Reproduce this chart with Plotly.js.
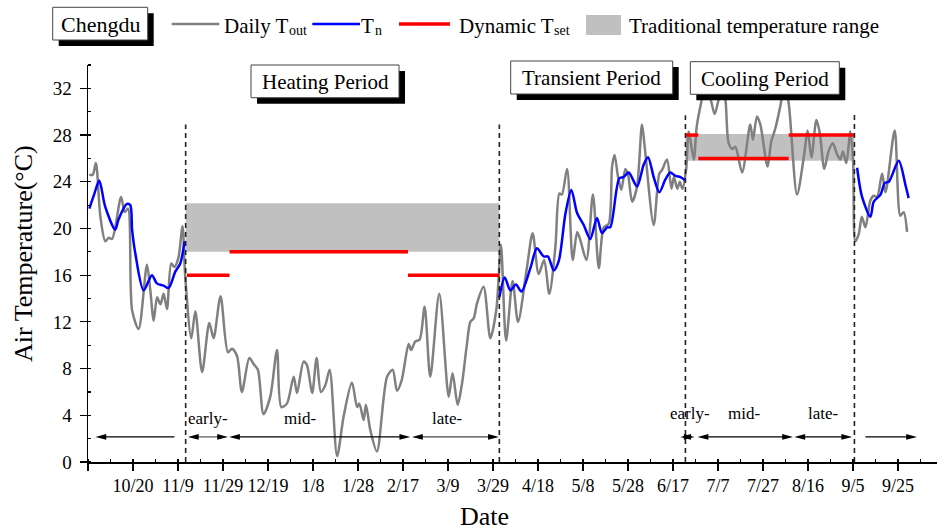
<!DOCTYPE html>
<html>
<head>
<meta charset="utf-8">
<script src="https://cdn.plot.ly/plotly-3.0.1.min.js"></script>
<style>html,body{margin:0;padding:0;background:#fff;}#chart{width:937px;height:530px;}</style>
</head>
<body>
<div id="chart"></div>
<script>
// ---- Data (x = days since 9/30) ----
const tickDays = [0, 20, 40, 60, 80, 100, 120, 140, 160, 180, 200, 220, 240, 260, 280, 300, 320, 340, 360];
const tickLabels = ['', '10/20', '11/9', '11/29', '12/19', '1/8', '1/28', '2/17', '3/9', '3/29', '4/18', '5/8', '5/28', '6/17', '7/7', '7/27', '8/16', '9/5', '9/25'];

const toutDays = [0.6, 2.1, 3.5, 5.5, 7.7, 9.2, 10.7, 14.7, 16.3, 17.8, 19.6, 22.5, 26.2, 27.7, 29.2, 30.7, 32.2, 33.6, 35.1, 37.0,
  38.4, 40.2, 42.0, 43.2, 45.9, 47.7, 50.7, 53.9, 55.8, 58.9, 62.2, 64.0, 66.2, 68.4, 71.7, 73.6, 75.5, 78.0, 81.0, 84.0,
  85.9, 88.4, 91.4, 92.9, 95.8, 97.3, 99.6, 101.6, 103.5, 105.5, 107.4, 110.7, 113.6, 117.3, 119.6, 120.6, 122.5, 123.5, 125.5, 128.4,
  132.9, 135.4, 137.3, 139.4, 142.5, 143.6, 145.4, 147.4, 149.6, 152.1, 156.1, 160.3, 162.0, 164.3, 166.2, 168.4, 169.9, 171.4, 172.9, 175.8,
  178.8, 181.5, 183.5, 185.8, 188.7, 191.1, 195.1, 197.6, 200.3, 202.7, 205.0, 207.7, 209.5, 210.6, 212.9, 215.4, 217.4, 218.8, 221.5, 224.4,
  227.0, 229.2, 231.4, 232.9, 234.0, 235.5, 237.0, 238.8, 240.0, 241.8, 244.0, 246.2, 247.4, 251.4, 253.9, 255.1, 257.3, 259.3, 260.4, 261.9,
  263.0, 264.2, 265.8, 267.0, 269.2, 270.5, 272.3, 274.5, 276.8, 278.5, 280.2, 282.0, 283.3, 284.7, 286.3, 287.7, 290.7, 294.3, 295.5, 297.3,
  298.8, 302.0, 303.6, 305.5, 307.6, 309.6, 311.4, 315.1, 318.1, 319.8, 321.5, 323.7, 325.2, 327.2, 329.1, 331.0, 332.8, 334.3, 335.5, 337.0,
  338.8, 340.0, 341.0, 342.5, 343.9, 345.5, 347.7, 349.2, 350.7, 352.9, 354.4, 358.5, 361.0, 362.5, 364.0];
const toutTemps = [24.6, 24.6, 25.6, 21.0, 18.9, 19.2, 19.1, 22.7, 21.4, 21.7, 13.0, 11.4, 16.9, 14.7, 12.1, 14.1, 13.5, 14.4, 13.1, 17.0,
  16.7, 17.5, 20.2, 15.9, 10.6, 12.9, 7.7, 11.9, 10.6, 14.2, 9.4, 9.7, 9.1, 6.0, 8.9, 8.4, 7.9, 4.1, 5.6, 9.6,
  4.7, 5.0, 7.3, 5.9, 8.6, 8.3, 5.9, 8.9, 6.0, 6.6, 7.9, 0.5, 3.9, 6.8, 4.7, 5.0, 3.6, 4.9, 2.7, 0.9,
  7.3, 7.9, 6.1, 7.0, 10.1, 9.6, 10.3, 10.5, 13.3, 7.3, 14.4, 5.6, 7.6, 4.9, 6.7, 10.1, 12.0, 12.3, 13.6, 15.0,
  10.6, 13.1, 18.6, 10.4, 15.5, 12.0, 16.7, 19.6, 16.1, 17.3, 14.4, 18.4, 23.0, 22.9, 25.1, 17.3, 19.7, 19.0, 17.3, 22.9,
  16.6, 20.1, 20.4, 25.3, 26.3, 24.5, 23.3, 25.1, 24.6, 22.3, 23.6, 28.9, 27.0, 20.3, 24.7, 25.0, 25.9, 23.4, 24.4, 23.4,
  24.0, 23.4, 25.0, 28.3, 25.9, 28.7, 30.6, 32.3, 31.0, 29.8, 31.0, 32.3, 31.0, 27.3, 26.8, 27.0, 24.8, 28.9, 27.6, 29.6,
  28.9, 25.3, 27.4, 28.6, 30.4, 32.3, 30.7, 22.9, 26.1, 28.4, 26.1, 29.3, 28.2, 25.1, 26.6, 27.3, 26.4, 25.9, 26.6, 25.6,
  28.3, 25.8, 18.9, 19.5, 21.0, 20.1, 22.4, 22.8, 22.7, 24.7, 23.1, 28.4, 21.1, 21.4, 19.7];

const tnDays = [0.6, 2.7, 5.0, 7.6, 12.1, 13.6, 17.3, 18.8, 19.6, 21.0, 24.7, 28.4, 30.6, 33.6, 35.8, 38.8, 41.0, 42.9, null,
  182.8, 185.2, 187.7, 190.2, 192.6, 196.6, 199.5, 202.5, 204.4, 207.0, 209.2, 212.2, 214.8, 217.4, 220.3, 223.2, 226.2, 228.4, 230.7, 232.1,
  236.1, 238.0, 240.3, 244.0, 247.0, 248.9, 251.4, 253.9, 256.6, 258.8, 261.1, 263.3, 265.5, null,
  341.8, 344.0, 347.7, 349.2, 352.2, 354.1, 355.9, 360.3, 363.3, 364.7];
const tnTemps = [21.7, 22.9, 24.1, 21.9, 19.9, 20.8, 22.1, 22.0, 19.9, 17.9, 14.7, 16.0, 15.3, 15.1, 14.9, 16.3, 17.0, 18.9, null,
  14.1, 15.8, 14.7, 15.2, 14.6, 16.6, 18.3, 17.6, 17.6, 16.4, 17.2, 21.3, 23.3, 21.3, 20.3, 19.1, 20.9, 19.6, 20.1, 20.1,
  24.3, 24.4, 24.8, 23.6, 25.5, 26.1, 24.4, 23.1, 24.2, 24.8, 24.5, 24.4, 24.1, null,
  25.2, 22.7, 21.0, 22.3, 22.9, 23.9, 24.0, 25.8, 23.7, 22.6];

// Dynamic Tset per phase (early, mid, late)
const heatingPhaseDays = [44.0, 62.9, 142.2, 182.8];
const heatingTset = [16, 18, 16];
const coolingPhaseDays = [265.5, 271.2, 311.4, 340.6];
const coolingTset = [28, 26, 28];

// Traditional temperature range: [start day, end day], [low, high]
const bandStartDays = [43.4, 265.5];
const bandEndDays = [182.8, 340.6];
const bandLow = [18.0, 25.8];
const bandHigh = [22.15, 28.1];

// Period boundaries (dashed lines)
const boundaryDays = [43.4, 182.8, 265.5, 340.6];

// ---- Build traces ----
const traces = [];
for (let i = 0; i < bandStartDays.length; i++) {
  traces.push({
    x: [bandStartDays[i], bandEndDays[i], bandEndDays[i], bandStartDays[i], bandStartDays[i]],
    y: [bandLow[i], bandLow[i], bandHigh[i], bandHigh[i], bandLow[i]],
    mode: 'lines', fill: 'toself', fillcolor: '#c0c0c0', line: {width: 0, color: '#c0c0c0'},
    hoverinfo: 'skip', showlegend: false
  });
}
traces.push({x: toutDays, y: toutTemps, mode: 'lines', line: {color: '#808080', width: 2.5, shape: 'spline', smoothing: 0.8}, showlegend: false});
traces.push({x: tnDays, y: tnTemps, mode: 'lines', connectgaps: false, line: {color: '#0000ff', width: 2.5, shape: 'spline', smoothing: 0.8}, showlegend: false});
const tsX = [], tsY = [];
function addPhases(days, vals) {
  for (let i = 0; i < vals.length; i++) { tsX.push(days[i], days[i + 1], null); tsY.push(vals[i], vals[i], null); }
}
addPhases(heatingPhaseDays, heatingTset);
addPhases(coolingPhaseDays, coolingTset);
traces.push({x: tsX, y: tsY, mode: 'lines', connectgaps: false, line: {color: '#ff0000', width: 3.5}, showlegend: false});

// ---- Layout helpers ----
const ML = 88, MT = 65, PW = 849, PH = 397;
const PX = x => (x - ML) / PW;
const PY = y => (MT + PH - y) / PH;
const serif = 'Liberation Serif, Times New Roman, serif';

const shapes = [];
const annotations = [];

function boxWithShadow(x0, y0, x1, y1, text, size) {
  shapes.push({type: 'rect', xref: 'paper', yref: 'paper', layer: 'above', x0: PX(x0 + 6), x1: PX(x1 + 6), y0: PY(y1 + 6), y1: PY(y0 + 6), fillcolor: '#000', line: {width: 0}});
  shapes.push({type: 'rect', xref: 'paper', yref: 'paper', layer: 'above', x0: PX(x0), x1: PX(x1), y0: PY(y1), y1: PY(y0), fillcolor: '#fff', line: {width: 1, color: '#444'}});
  annotations.push({xref: 'paper', yref: 'paper', x: PX((x0 + x1) / 2), y: PY((y0 + y1) / 2 + 1), text: text, showarrow: false, xanchor: 'center', yanchor: 'middle', font: {family: serif, size: size, color: '#000'}});
}
boxWithShadow(52.7, 7.3, 147.7, 40, 'Chengdu', 22);
boxWithShadow(251, 65, 399, 97.7, 'Heating Period', 21);
boxWithShadow(510.7, 61, 672.7, 94, 'Transient Period', 21);
boxWithShadow(690.3, 61.7, 839.3, 94.3, 'Cooling Period', 21);

// legend samples
function legLine(x0, x1, color, w) {
  shapes.push({type: 'line', xref: 'paper', yref: 'paper', x0: PX(x0), x1: PX(x1), y0: PY(24), y1: PY(24), line: {color: color, width: w}});
}
legLine(171.7, 219.3, '#808080', 2.5);
legLine(312.3, 360, '#0000ff', 2.5);
legLine(399, 450, '#ff0000', 3.5);
shapes.push({type: 'rect', xref: 'paper', yref: 'paper', x0: PX(586), x1: PX(621), y0: PY(35), y1: PY(15), fillcolor: '#c0c0c0', line: {width: 0}});
function legText(x, y, text, size) {
  annotations.push({xref: 'paper', yref: 'paper', x: PX(x), y: PY(y), text: text, showarrow: false, xanchor: 'left', yanchor: 'middle', borderpad: 0, font: {family: serif, size: size, color: '#000'}});
}
legText(223, 25.5, 'Daily T', 21);
legText(288, 31, 'out', 14);
legText(360, 25.5, 'T', 21);
legText(374, 31, 'n', 14);
legText(458, 25.5, 'Dynamic T', 21);
legText(553, 31, 'set', 14);
legText(628, 25.5, 'Traditional temperature range', 21);

// dashed boundary lines
const dashTops = [28.9, 28.9, 29.7, 30.0];
boundaryDays.forEach((d, i) => {
  shapes.push({type: 'line', xref: 'x', yref: 'y', layer: 'above', x0: d, x1: d, y0: 0, y1: dashTops[i], line: {color: '#222', width: 1.6, dash: '5px,4px'}});
});

// phase arrows: [start day, end day, head at start?, head at end?, colour]
const arrowY = 2.15, headLen = 4.8, headHalf = 0.24;
const arrowSpec = [
  [3.3, 38.4, true, false, '#000'],
  [44.4, 62.2, true, true, '#555'],
  [62.7, 143.2, true, true, '#000'],
  [144.0, 182.6, true, true, '#444'],
  [263.2, 269.6, true, true, '#000'],
  [270.9, 313.3, true, true, '#000'],
  [313.9, 339.6, true, true, '#000'],
  [345.5, 368.4, false, true, '#000']
];
arrowSpec.forEach(a => {
  const s = a[0], e = a[1];
  shapes.push({type: 'line', xref: 'x', yref: 'y', x0: a[2] ? s + headLen * 0.6 : s, x1: a[3] ? e - headLen * 0.6 : e, y0: arrowY, y1: arrowY, line: {color: a[4], width: 1.2}});
  if (a[2]) shapes.push({type: 'path', xref: 'x', yref: 'y', path: `M ${s},${arrowY} L ${s + headLen},${arrowY + headHalf} L ${s + headLen},${arrowY - headHalf} Z`, fillcolor: '#000', line: {width: 0}});
  if (a[3]) shapes.push({type: 'path', xref: 'x', yref: 'y', path: `M ${e},${arrowY} L ${e - headLen},${arrowY + headHalf} L ${e - headLen},${arrowY - headHalf} Z`, fillcolor: '#000', line: {width: 0}});
});
const phaseLabels = [['early-', 53.5, 3.75], ['mid-', 94.1, 3.75], ['late-', 159.6, 3.75], ['early-', 267.4, 4.15], ['mid-', 291.7, 4.15], ['late-', 326.7, 4.15]];
phaseLabels.forEach(p => {
  annotations.push({xref: 'x', yref: 'y', x: p[1], y: p[2], text: p[0], showarrow: false, xanchor: 'center', yanchor: 'middle', font: {family: serif, size: 17, color: '#000'}});
});

// axis titles
annotations.push({xref: 'paper', yref: 'paper', x: PX(484), y: PY(516), text: 'Date', showarrow: false, xanchor: 'center', yanchor: 'middle', font: {family: serif, size: 26, color: '#000'}});
annotations.push({xref: 'paper', yref: 'paper', x: PX(23), y: PY(254), text: 'Air Temperature(°C)', textangle: -90, showarrow: false, xanchor: 'center', yanchor: 'middle', font: {family: serif, size: 26, color: '#000'}});

const layout = {
  width: 937, height: 530,
  margin: {l: ML, r: 0, t: MT, b: 530 - MT - PH},
  paper_bgcolor: '#fff', plot_bgcolor: '#fff',
  showlegend: false,
  font: {family: serif, size: 18, color: '#000'},
  xaxis: {
    range: [0, 377.3], tickmode: 'array', tickvals: tickDays, ticktext: tickLabels,
    ticks: 'outside', ticklen: 7, tickwidth: 1.2, tickcolor: '#000',
    showline: true, linecolor: '#000', linewidth: 1.5, showgrid: false, zeroline: false,
    tickfont: {family: serif, size: 18, color: '#000'},
    minor: {dtick: 10, tick0: 0, ticks: 'inside', ticklen: 3, tickcolor: '#000', showgrid: false}
  },
  yaxis: {
    range: [0, 34], tick0: 0, dtick: 4,
    ticks: 'outside', ticklen: 7, tickwidth: 1.2, tickcolor: '#000',
    showline: true, linecolor: '#000', linewidth: 1.5, showgrid: false, zeroline: false,
    ticklabelstandoff: 4,
    tickfont: {family: serif, size: 19, color: '#000'},
    minor: {dtick: 2, tick0: 0, ticks: 'inside', ticklen: 3, tickcolor: '#000', showgrid: false}
  },
  shapes: shapes,
  annotations: annotations
};

Plotly.newPlot('chart', traces, layout, {staticPlot: true, displayModeBar: false});
</script>
</body>
</html>
